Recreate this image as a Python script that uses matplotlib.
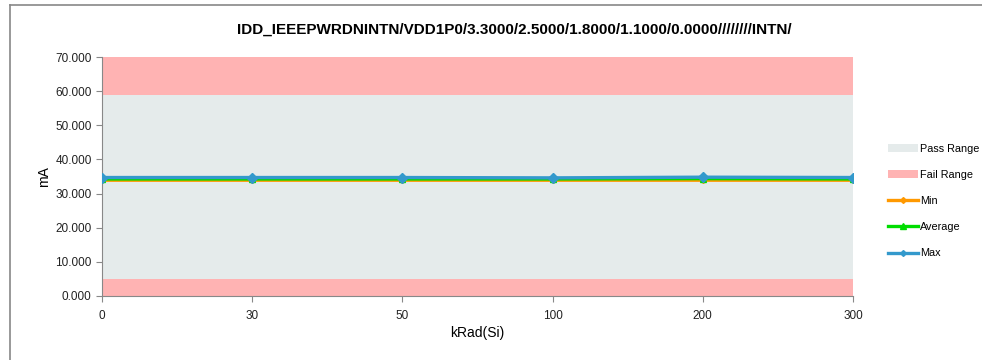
import matplotlib.pyplot as plt
from matplotlib.patches import Patch
from matplotlib.lines import Line2D

# chart data
doses = ['0', '30', '50', '100', '200', '300']
min_vals = [34.0, 34.0, 34.0, 34.0, 34.0, 34.0]
avg_vals = [34.2, 34.2, 34.2, 34.2, 34.3, 34.2]
max_vals = [34.7, 34.7, 34.7, 34.6, 34.8, 34.7]
pass_low, pass_high = 5.0, 59.0
y_max = 70.0

title = 'IDD_IEEEPWRDNINTN/VDD1P0/3.3000/2.5000/1.8000/1.1000/0.0000////////INTN/'

plt.rcParams['font.family'] = ['Liberation Sans', 'DejaVu Sans']

fig = plt.figure(figsize=(9.82, 3.6), dpi=100)
ax = fig.add_axes([102 / 982, 1 - 296 / 360, (853 - 102) / 982, (296 - 57) / 360])

x = list(range(len(doses)))

# pass / fail bands
ax.axhspan(0, pass_low, color='#FFB3B3', lw=0)
ax.axhspan(pass_low, pass_high, color='#E5EBEB', lw=0)
ax.axhspan(pass_high, y_max, color='#FFB3B3', lw=0)

ax.plot(x, min_vals, color='#FF9900', lw=2, marker='D', ms=3, zorder=3)
ax.plot(x, avg_vals, color='#00DD00', lw=2, marker='^', ms=5, zorder=4)
ax.plot(x, max_vals, color='#3399CC', lw=2.4, marker='D', ms=5, zorder=5)

ax.set_xlim(0, len(doses) - 1)
ax.set_ylim(0, y_max)
ax.set_xticks(x)
ax.set_xticklabels(doses)
ax.set_yticks(range(0, 71, 10))
ax.set_yticklabels([f'{v:.3f}' for v in range(0, 71, 10)])
ax.tick_params(labelsize=8.5, colors='#222222', length=4, color='#888888')
ax.tick_params(axis='x', pad=6)

for side in ['top', 'right']:
    ax.spines[side].set_visible(False)
for side in ['left', 'bottom']:
    ax.spines[side].set_color('#888888')

ax.set_xlabel('kRad(Si)', fontsize=10, labelpad=3)
ax.set_ylabel('mA', fontsize=10, labelpad=3)
fig.text(514 / 982, 1 - 30 / 360, title, ha='center', va='center',
         fontsize=11, fontweight='bold')

handles = [
    Patch(facecolor='#E5EBEB', label='Pass Range'),
    Patch(facecolor='#FFB3B3', label='Fail Range'),
    Line2D([], [], color='#FF9900', lw=2.4, marker='D', ms=3, label='Min'),
    Line2D([], [], color='#00DD00', lw=2.4, marker='^', ms=4, label='Average'),
    Line2D([], [], color='#3399CC', lw=2.4, marker='D', ms=3, label='Max'),
]
fig.legend(handles=handles, loc='center left', bbox_to_anchor=(884 / 982, 1 - 201 / 360),
           frameon=False, fontsize=7.8, handlelength=2.7, labelspacing=1.5,
           handletextpad=0.25, borderaxespad=0)

# outer chart border
fig.add_artist(Line2D([10 / 982, 1], [1 - 5 / 360, 1 - 5 / 360], color='#888888', lw=1.2))
fig.add_artist(Line2D([10 / 982, 10 / 982], [0, 1 - 5 / 360], color='#888888', lw=1.2))

fig.savefig('out.png', dpi=100)
